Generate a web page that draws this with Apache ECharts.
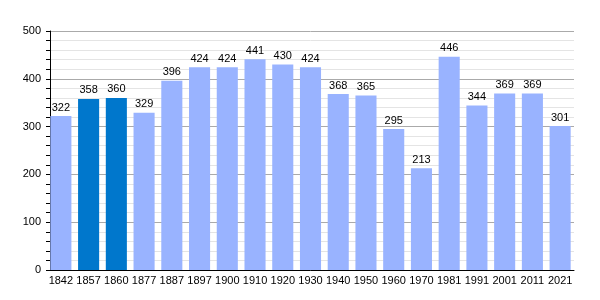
<!DOCTYPE html>
<html><head><meta charset="utf-8">
<script src="https://cdn.jsdelivr.net/npm/echarts@6/dist/echarts.min.js"></script>
<style>html,body{margin:0;padding:0;background:#fff}#c{width:600px;height:300px}</style>
</head><body><div id="c"></div>
<script>
const categories = ['1842','1857','1860','1877','1887','1897','1900','1910','1920','1930','1940','1950','1960','1970','1981','1991','2001','2011','2021'];
const values = [322,358,360,329,396,424,424,441,430,424,368,365,295,213,446,344,369,369,301];
const highlighted = ['1857','1860'];
const yTicks = [0,100,200,300,400,500];

const chart = echarts.init(document.getElementById('c'), null, {renderer:'canvas'});
const font = 'Liberation Sans, Arial, sans-serif';
chart.setOption({
  animation:false,
  grid:{left:47, right:26, top:31, bottom:30, containLabel:false},
  xAxis:{
    type:'category', data:categories,
    axisLine:{show:true, lineStyle:{color:'#000', width:1}},
    axisTick:{show:false},
    axisLabel:{color:'#000', fontFamily:font, fontSize:11, margin:5, interval:0},
    splitLine:{show:false}
  },
  yAxis:{
    type:'value', min:yTicks[0], max:yTicks[yTicks.length-1], interval:100, offset:-3,
    axisLine:{show:true, lineStyle:{color:'#000', width:1}},
    axisTick:{show:true, length:4, lineStyle:{color:'#000'}},
    minorTick:{show:true, splitNumber:5, length:4, lineStyle:{color:'#000'}},
    axisLabel:{color:'#000', fontFamily:font, fontSize:11, margin:9},
    splitLine:{show:true, lineStyle:{color:'#aaaaaa', width:1}},
    minorSplitLine:{show:true, lineStyle:{color:'#e4e4e4', width:1}}
  },
  series:[{
    type:'bar',
    data: values.map((v,i)=>({value:v, itemStyle:{color: highlighted.includes(categories[i]) ? '#0077cc' : '#99b3ff'}})),
    barCategoryGap:'24%',
    label:{show:true, position:'top', color:'#000', fontFamily:font, fontSize:11, distance:3}
  }]
});
</script></body></html>
